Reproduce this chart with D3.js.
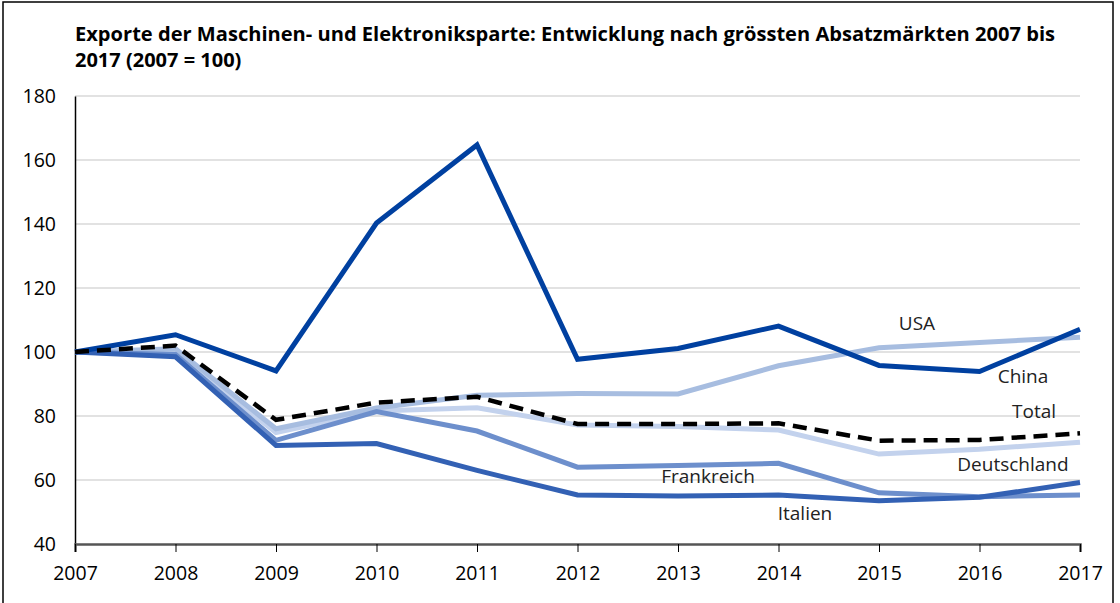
<!DOCTYPE html>
<html>
<head>
<meta charset="utf-8">
<script src="https://cdn.jsdelivr.net/npm/d3@7"></script>
<style>
  body { margin: 0; background: #fff; }
  svg { display: block; font-family: "Open Sans", "Noto Sans", sans-serif; }
</style>
</head>
<body>
<svg id="chart" width="1120" height="603"></svg>
<script>
// years and index values (2007 = 100)
const years = [2007, 2008, 2009, 2010, 2011, 2012, 2013, 2014, 2015, 2016, 2017];
const china       = [100, 105.4, 94.1, 140.3, 164.7, 97.7, 101.1, 108.1, 95.8, 93.9, 107.1];
const usa         = [100, 101.0, 76.0, 82.5, 86.5, 87.0, 86.9, 95.7, 101.3, 103.0, 104.6];
const total       = [100, 102.0, 78.8, 84.2, 86.0, 77.5, 77.5, 77.7, 72.3, 72.5, 74.6];
const deutschland = [100, 99.8, 74.8, 81.6, 82.6, 77.2, 76.7, 75.6, 68.1, 69.6, 71.8];
const frankreich  = [100, 99.2, 72.4, 81.4, 75.3, 64.0, 64.5, 65.2, 56.0, 54.8, 55.3];
const italien     = [100, 98.5, 70.8, 71.4, 63.0, 55.3, 55.0, 55.3, 53.5, 54.6, 59.2];
const yTicks = [40, 60, 80, 100, 120, 140, 160, 180];

const series = [
  { name: "Deutschland", values: deutschland, color: "#c3d2ed", dash: null, lx: 1013, ly: 466 },
  { name: "USA",         values: usa,         color: "#a7bde0", dash: null, lx: 917,  ly: 325 },
  { name: "Frankreich",  values: frankreich,  color: "#6d8fcc", dash: null, lx: 708,  ly: 478 },
  { name: "Italien",     values: italien,     color: "#3361b4", dash: null, lx: 805,  ly: 515 },
  { name: "China",       values: china,       color: "#0040a0", dash: null, lx: 1023, ly: 378 },
  { name: "Total",       values: total,       color: "#000000", dash: "14,8", lx: 1034, ly: 413 }
];

const svg = d3.select("#chart");
const x = d3.scaleLinear().domain([2007, 2017]).range([75, 1080]);
const y = d3.scaleLinear().domain([40, 180]).range([544, 96]);

// outer frame
svg.append("rect")
  .attr("x", 3).attr("y", 2).attr("width", 1110).attr("height", 620)
  .attr("fill", "none").attr("stroke", "#000").attr("stroke-width", 1.5);

// title
const title = svg.append("text")
  .attr("x", 75).attr("y", 41)
  .attr("font-size", 20).attr("font-weight", "bold").attr("fill", "#000");
title.append("tspan").attr("x", 75).attr("dy", 0)
  .attr("textLength", 980).attr("lengthAdjust", "spacingAndGlyphs")
  .text("Exporte der Maschinen- und Elektroniksparte: Entwicklung nach grössten Absatzmärkten 2007 bis");
title.append("tspan").attr("x", 75).attr("dy", 26)
  .text("2017 (2007 = 100)");

// gridlines
svg.append("g").selectAll("line")
  .data(yTicks.filter(d => d > 40))
  .enter().append("line")
    .attr("x1", 75).attr("x2", 1080)
    .attr("y1", d => y(d)).attr("y2", d => y(d))
    .attr("stroke", "#d9d9d9").attr("stroke-width", 1.5);

// y axis
const yAxis = svg.append("g")
  .attr("transform", "translate(75,0)")
  .call(d3.axisLeft(y).tickValues(yTicks).tickSize(0).tickPadding(19).tickFormat(d3.format("d")));
yAxis.select(".domain").attr("stroke", "#000").attr("stroke-width", 1.5);
yAxis.selectAll("text").attr("font-size", 19.5).attr("fill", "#000").attr("font-family", "Open Sans, sans-serif");

// x axis
const xAxis = svg.append("g")
  .attr("transform", "translate(0,544)")
  .call(d3.axisBottom(x).tickValues(years).tickSize(8).tickPadding(14).tickFormat(d3.format("d")));
xAxis.select(".domain").attr("stroke", "#555").attr("stroke-width", 2.5);
xAxis.selectAll(".tick line").attr("stroke", "#000").attr("stroke-width", 1);
xAxis.selectAll("text").attr("font-size", 19.5).attr("fill", "#000").attr("font-family", "Open Sans, sans-serif");

// lines
const line = d3.line()
  .x((d, i) => x(years[i]))
  .y(d => y(d));

svg.append("g").selectAll("path")
  .data(series)
  .enter().append("path")
    .attr("d", d => line(d.values))
    .attr("fill", "none")
    .attr("stroke", d => d.color)
    .attr("stroke-width", d => d.dash ? 4.5 : 5)
    .attr("stroke-dasharray", d => d.dash)
    .attr("stroke-linejoin", "miter");

// labels
svg.append("g").selectAll("text")
  .data(series)
  .enter().append("text")
    .attr("x", d => d.lx).attr("y", d => d.ly)
    .attr("font-size", 19).attr("fill", "#222")
    .attr("text-anchor", "middle")
    .attr("dominant-baseline", "middle")
    .text(d => d.name);
</script>
</body>
</html>
